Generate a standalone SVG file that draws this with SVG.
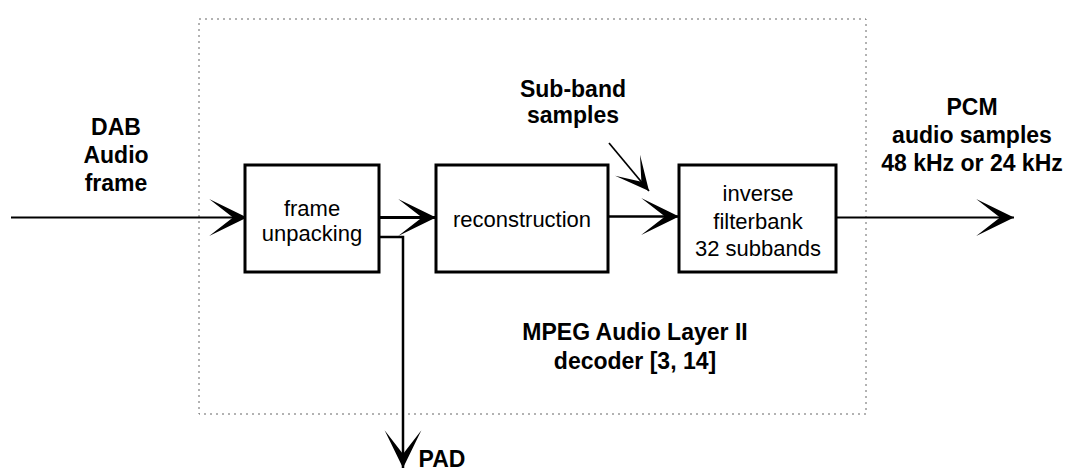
<svg xmlns="http://www.w3.org/2000/svg" width="1073" height="470" viewBox="0 0 1073 470">
  <style>
    .box { fill: #fff; stroke: #000; stroke-width: 3; }
    .wire { fill: none; stroke: #000; }
    .lbl { font-family: "Liberation Sans", Arial, sans-serif; font-size: 22px; fill: #000; text-anchor: middle; }
    .bold { font-family: "Liberation Sans", Arial, sans-serif; font-size: 23px; font-weight: bold; fill: #000; text-anchor: middle; }
    .frame { fill: none; stroke: #666; stroke-width: 1; stroke-dasharray: 2 4; }
  </style>
  <defs>
    <!-- barbed arrowhead, tip at the path end -->
    <marker id="arrow" markerUnits="userSpaceOnUse" markerWidth="40" markerHeight="40" viewBox="-36 -18 37 36" refX="0" refY="0" orient="auto">
      <path d="M0,0 L-35,-17 L-13,0 L-35,17 Z" fill="#000"/>
    </marker>
    <marker id="arrow-s" markerUnits="userSpaceOnUse" markerWidth="40" markerHeight="40" viewBox="-36 -18 37 36" refX="0" refY="0" orient="auto">
      <path d="M0,0 L-31,-15 L-11,0 L-31,15 Z" fill="#000"/>
    </marker>
  </defs>

  <!-- decoder boundary -->
  <rect class="frame" x="199" y="19" width="667" height="395"/>

  <!-- connectors -->
  <g id="connectors">
    <path class="wire" stroke-width="2" d="M11,217.5 H247" marker-end="url(#arrow)"/>
    <path class="wire" stroke-width="3" d="M379,217.5 H436" marker-end="url(#arrow)"/>
    <path class="wire" stroke-width="2.5" d="M379,237 H403 V468" marker-end="url(#arrow)"/>
    <path class="wire" stroke-width="2.5" d="M608,216.5 H679" marker-end="url(#arrow)"/>
    <path class="wire" stroke-width="1.7" d="M609,143 L649,191" marker-end="url(#arrow-s)"/>
    <path class="wire" stroke-width="1.8" d="M836,217.5 H1014" marker-end="url(#arrow)"/>
  </g>

  <g id="frame-unpacking">
    <rect class="box" x="245" y="165" width="134" height="107"/>
    <text class="lbl" x="312" y="216">frame</text>
    <text class="lbl" x="312" y="241">unpacking</text>
  </g>

  <g id="reconstruction">
    <rect class="box" x="436" y="165" width="172" height="107"/>
    <text class="lbl" x="522" y="227">reconstruction</text>
  </g>

  <g id="inverse-filterbank">
    <rect class="box" x="679" y="165" width="157" height="107"/>
    <text class="lbl" x="758" y="201">inverse</text>
    <text class="lbl" x="758" y="229">filterbank</text>
    <text class="lbl" x="758" y="256">32 subbands</text>
  </g>

  <g id="dab-input">
    <text class="bold" x="116" y="135">DAB</text>
    <text class="bold" x="116" y="163">Audio</text>
    <text class="bold" x="116" y="191">frame</text>
  </g>

  <g id="subband-label">
    <text class="bold" x="573" y="97">Sub-band</text>
    <text class="bold" x="573" y="123">samples</text>
  </g>

  <g id="pcm-output">
    <text class="bold" x="972" y="115">PCM</text>
    <text class="bold" x="972" y="143">audio samples</text>
    <text class="bold" x="972" y="171">48 kHz or 24 kHz</text>
  </g>

  <g id="decoder-label">
    <text class="bold" x="635" y="340">MPEG Audio Layer II</text>
    <text class="bold" x="635" y="369">decoder [3, 14]</text>
  </g>

  <g id="pad-output">
    <text class="bold" x="442" y="467" text-anchor="start">PAD</text>
  </g>
</svg>
